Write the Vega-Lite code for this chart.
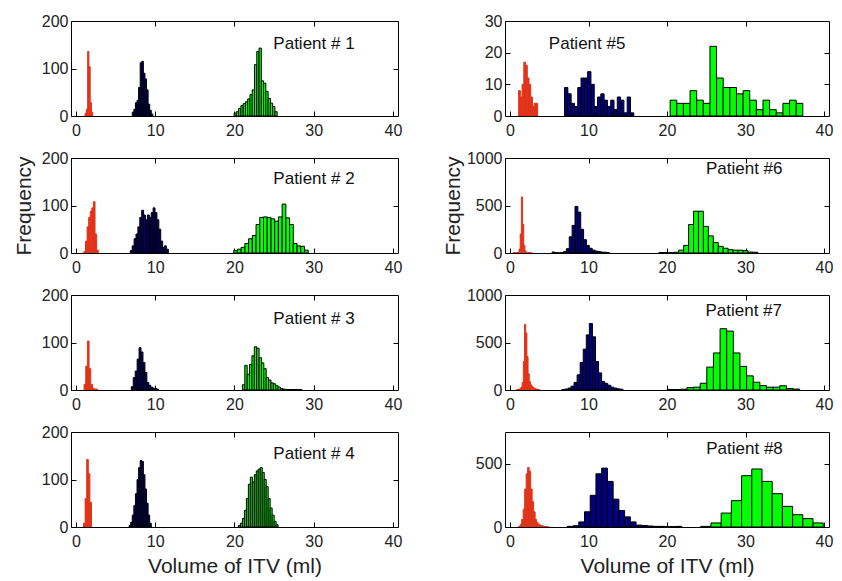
{
"$schema": "https://vega.github.io/schema/vega-lite/v6.json",
"background": "white",
"padding": {"left": 12, "top": 12, "right": 0, "bottom": 0},
"datasets": {
"bins": [
{"p":1,"g":"r","a":1.15,"b":1.31,"n":6},{"p":1,"g":"r","a":1.31,"b":1.47,"n":14},{"p":1,"g":"r","a":1.47,"b":1.63,"n":136},{"p":1,"g":"r","a":1.63,"b":1.79,"n":104},{"p":1,"g":"r","a":1.79,"b":1.95,"n":28},{"p":1,"g":"r","a":1.95,"b":2.11,"n":8},
{"p":1,"g":"m","a":7.1,"b":7.3,"n":8},{"p":1,"g":"m","a":7.3,"b":7.5,"n":14},{"p":1,"g":"m","a":7.5,"b":7.7,"n":28},{"p":1,"g":"m","a":7.7,"b":7.9,"n":33},{"p":1,"g":"m","a":7.9,"b":8.1,"n":60},{"p":1,"g":"m","a":8.1,"b":8.3,"n":112},{"p":1,"g":"m","a":8.3,"b":8.5,"n":115},{"p":1,"g":"m","a":8.5,"b":8.7,"n":90},{"p":1,"g":"m","a":8.7,"b":8.9,"n":78},{"p":1,"g":"m","a":8.9,"b":9.1,"n":55},{"p":1,"g":"m","a":9.1,"b":9.3,"n":25},{"p":1,"g":"m","a":9.3,"b":9.5,"n":12},{"p":1,"g":"m","a":9.5,"b":9.7,"n":4},
{"p":1,"g":"g","a":19.95,"b":20.236,"n":6},{"p":1,"g":"g","a":20.236,"b":20.522,"n":9},{"p":1,"g":"g","a":20.522,"b":20.808,"n":16},{"p":1,"g":"g","a":20.808,"b":21.094,"n":22},{"p":1,"g":"g","a":21.094,"b":21.38,"n":26},{"p":1,"g":"g","a":21.38,"b":21.666,"n":30},{"p":1,"g":"g","a":21.666,"b":21.952,"n":36},{"p":1,"g":"g","a":21.952,"b":22.238,"n":45},{"p":1,"g":"g","a":22.238,"b":22.524,"n":55},{"p":1,"g":"g","a":22.524,"b":22.81,"n":108},{"p":1,"g":"g","a":22.81,"b":23.096,"n":136},{"p":1,"g":"g","a":23.096,"b":23.382,"n":143},{"p":1,"g":"g","a":23.382,"b":23.668,"n":74},{"p":1,"g":"g","a":23.668,"b":23.954,"n":69},{"p":1,"g":"g","a":23.954,"b":24.24,"n":52},{"p":1,"g":"g","a":24.24,"b":24.526,"n":37},{"p":1,"g":"g","a":24.526,"b":24.812,"n":27},{"p":1,"g":"g","a":24.812,"b":25.098,"n":20},{"p":1,"g":"g","a":25.098,"b":25.384,"n":9},
{"p":2,"g":"r","a":1.0,"b":1.2,"n":3},{"p":2,"g":"r","a":1.2,"b":1.4,"n":25},{"p":2,"g":"r","a":1.4,"b":1.6,"n":55},{"p":2,"g":"r","a":1.6,"b":1.8,"n":75},{"p":2,"g":"r","a":1.8,"b":2.0,"n":88},{"p":2,"g":"r","a":2.0,"b":2.2,"n":95},{"p":2,"g":"r","a":2.2,"b":2.4,"n":108},{"p":2,"g":"r","a":2.4,"b":2.6,"n":40},{"p":2,"g":"r","a":2.6,"b":2.8,"n":6},
{"p":2,"g":"m","a":6.85,"b":7.09,"n":5},{"p":2,"g":"m","a":7.09,"b":7.33,"n":15},{"p":2,"g":"m","a":7.33,"b":7.57,"n":30},{"p":2,"g":"m","a":7.57,"b":7.81,"n":40},{"p":2,"g":"m","a":7.81,"b":8.05,"n":55},{"p":2,"g":"m","a":8.05,"b":8.29,"n":75},{"p":2,"g":"m","a":8.29,"b":8.53,"n":90},{"p":2,"g":"m","a":8.53,"b":8.77,"n":80},{"p":2,"g":"m","a":8.77,"b":9.01,"n":70},{"p":2,"g":"m","a":9.01,"b":9.25,"n":80},{"p":2,"g":"m","a":9.25,"b":9.49,"n":75},{"p":2,"g":"m","a":9.49,"b":9.73,"n":85},{"p":2,"g":"m","a":9.73,"b":9.97,"n":95},{"p":2,"g":"m","a":9.97,"b":10.21,"n":85},{"p":2,"g":"m","a":10.21,"b":10.45,"n":70},{"p":2,"g":"m","a":10.45,"b":10.69,"n":50},{"p":2,"g":"m","a":10.69,"b":10.93,"n":25},{"p":2,"g":"m","a":10.93,"b":11.17,"n":12},{"p":2,"g":"m","a":11.17,"b":11.41,"n":15},{"p":2,"g":"m","a":11.41,"b":11.65,"n":8},
{"p":2,"g":"g","a":19.9,"b":20.37,"n":5},{"p":2,"g":"g","a":20.37,"b":20.84,"n":8},{"p":2,"g":"g","a":20.84,"b":21.31,"n":12},{"p":2,"g":"g","a":21.31,"b":21.78,"n":20},{"p":2,"g":"g","a":21.78,"b":22.25,"n":30},{"p":2,"g":"g","a":22.25,"b":22.72,"n":37},{"p":2,"g":"g","a":22.72,"b":23.19,"n":60},{"p":2,"g":"g","a":23.19,"b":23.66,"n":75},{"p":2,"g":"g","a":23.66,"b":24.13,"n":76},{"p":2,"g":"g","a":24.13,"b":24.6,"n":75},{"p":2,"g":"g","a":24.6,"b":25.07,"n":72},{"p":2,"g":"g","a":25.07,"b":25.54,"n":67},{"p":2,"g":"g","a":25.54,"b":26.01,"n":76},{"p":2,"g":"g","a":26.01,"b":26.48,"n":103},{"p":2,"g":"g","a":26.48,"b":26.95,"n":74},{"p":2,"g":"g","a":26.95,"b":27.42,"n":60},{"p":2,"g":"g","a":27.42,"b":27.89,"n":20},{"p":2,"g":"g","a":27.89,"b":28.36,"n":15},{"p":2,"g":"g","a":28.36,"b":28.83,"n":14},{"p":2,"g":"g","a":28.83,"b":29.3,"n":6},
{"p":3,"g":"r","a":1.02,"b":1.23,"n":12},{"p":3,"g":"r","a":1.23,"b":1.44,"n":50},{"p":3,"g":"r","a":1.44,"b":1.65,"n":103},{"p":3,"g":"r","a":1.65,"b":1.86,"n":45},{"p":3,"g":"r","a":1.86,"b":2.07,"n":12},{"p":3,"g":"r","a":2.07,"b":2.28,"n":4},{"p":3,"g":"r","a":2.28,"b":2.49,"n":2},{"p":3,"g":"r","a":2.49,"b":2.7,"n":2},
{"p":3,"g":"m","a":6.98,"b":7.225,"n":7},{"p":3,"g":"m","a":7.225,"b":7.47,"n":26},{"p":3,"g":"m","a":7.47,"b":7.715,"n":40},{"p":3,"g":"m","a":7.715,"b":7.96,"n":65},{"p":3,"g":"m","a":7.96,"b":8.205,"n":89},{"p":3,"g":"m","a":8.205,"b":8.45,"n":80},{"p":3,"g":"m","a":8.45,"b":8.695,"n":58},{"p":3,"g":"m","a":8.695,"b":8.94,"n":37},{"p":3,"g":"m","a":8.94,"b":9.185,"n":16},{"p":3,"g":"m","a":9.185,"b":9.43,"n":10},{"p":3,"g":"m","a":9.43,"b":9.675,"n":6},{"p":3,"g":"m","a":9.675,"b":9.92,"n":4},{"p":3,"g":"m","a":9.92,"b":10.165,"n":3},{"p":3,"g":"m","a":10.165,"b":10.41,"n":2},
{"p":3,"g":"g","a":21.0,"b":21.3,"n":11},{"p":3,"g":"g","a":21.3,"b":21.6,"n":52},{"p":3,"g":"g","a":21.6,"b":21.9,"n":33},{"p":3,"g":"g","a":21.9,"b":22.2,"n":54},{"p":3,"g":"g","a":22.2,"b":22.5,"n":72},{"p":3,"g":"g","a":22.5,"b":22.8,"n":91},{"p":3,"g":"g","a":22.8,"b":23.1,"n":88},{"p":3,"g":"g","a":23.1,"b":23.4,"n":68},{"p":3,"g":"g","a":23.4,"b":23.7,"n":57},{"p":3,"g":"g","a":23.7,"b":24.0,"n":45},{"p":3,"g":"g","a":24.0,"b":24.3,"n":26},{"p":3,"g":"g","a":24.3,"b":24.6,"n":21},{"p":3,"g":"g","a":24.6,"b":24.9,"n":15},{"p":3,"g":"g","a":24.9,"b":25.2,"n":13},{"p":3,"g":"g","a":25.2,"b":25.5,"n":9},{"p":3,"g":"g","a":25.5,"b":25.8,"n":6},{"p":3,"g":"g","a":25.8,"b":26.1,"n":3},{"p":3,"g":"g","a":26.1,"b":26.4,"n":2},{"p":3,"g":"g","a":26.4,"b":26.7,"n":1},{"p":3,"g":"g","a":26.7,"b":27.0,"n":1},{"p":3,"g":"g","a":27.0,"b":27.3,"n":1},{"p":3,"g":"g","a":27.3,"b":27.6,"n":1},{"p":3,"g":"g","a":27.6,"b":27.9,"n":1},{"p":3,"g":"g","a":27.9,"b":28.2,"n":1},{"p":3,"g":"g","a":28.2,"b":28.5,"n":1},
{"p":4,"g":"r","a":0.95,"b":1.15,"n":8},{"p":4,"g":"r","a":1.15,"b":1.35,"n":60},{"p":4,"g":"r","a":1.35,"b":1.55,"n":142},{"p":4,"g":"r","a":1.55,"b":1.75,"n":112},{"p":4,"g":"r","a":1.75,"b":1.95,"n":52},
{"p":4,"g":"m","a":6.7,"b":6.9,"n":3},{"p":4,"g":"m","a":6.9,"b":7.1,"n":10},{"p":4,"g":"m","a":7.1,"b":7.3,"n":25},{"p":4,"g":"m","a":7.3,"b":7.5,"n":45},{"p":4,"g":"m","a":7.5,"b":7.7,"n":70},{"p":4,"g":"m","a":7.7,"b":7.9,"n":100},{"p":4,"g":"m","a":7.9,"b":8.1,"n":125},{"p":4,"g":"m","a":8.1,"b":8.3,"n":140},{"p":4,"g":"m","a":8.3,"b":8.5,"n":138},{"p":4,"g":"m","a":8.5,"b":8.7,"n":110},{"p":4,"g":"m","a":8.7,"b":8.9,"n":80},{"p":4,"g":"m","a":8.9,"b":9.1,"n":50},{"p":4,"g":"m","a":9.1,"b":9.3,"n":25},{"p":4,"g":"m","a":9.3,"b":9.5,"n":8},
{"p":4,"g":"g","a":20.5,"b":20.75,"n":3},{"p":4,"g":"g","a":20.75,"b":21.0,"n":8},{"p":4,"g":"g","a":21.0,"b":21.25,"n":18},{"p":4,"g":"g","a":21.25,"b":21.5,"n":35},{"p":4,"g":"g","a":21.5,"b":21.75,"n":60},{"p":4,"g":"g","a":21.75,"b":22.0,"n":90},{"p":4,"g":"g","a":22.0,"b":22.25,"n":105},{"p":4,"g":"g","a":22.25,"b":22.5,"n":95},{"p":4,"g":"g","a":22.5,"b":22.75,"n":110},{"p":4,"g":"g","a":22.75,"b":23.0,"n":118},{"p":4,"g":"g","a":23.0,"b":23.25,"n":122},{"p":4,"g":"g","a":23.25,"b":23.5,"n":125},{"p":4,"g":"g","a":23.5,"b":23.75,"n":115},{"p":4,"g":"g","a":23.75,"b":24.0,"n":100},{"p":4,"g":"g","a":24.0,"b":24.25,"n":85},{"p":4,"g":"g","a":24.25,"b":24.5,"n":60},{"p":4,"g":"g","a":24.5,"b":24.75,"n":40},{"p":4,"g":"g","a":24.75,"b":25.0,"n":25},{"p":4,"g":"g","a":25.0,"b":25.25,"n":12},{"p":4,"g":"g","a":25.25,"b":25.5,"n":5},
{"p":5,"g":"r","a":1.1,"b":1.32,"n":8},{"p":5,"g":"r","a":1.32,"b":1.54,"n":6},{"p":5,"g":"r","a":1.54,"b":1.76,"n":10},{"p":5,"g":"r","a":1.76,"b":1.98,"n":17},{"p":5,"g":"r","a":1.98,"b":2.2,"n":16},{"p":5,"g":"r","a":2.2,"b":2.42,"n":12},{"p":5,"g":"r","a":2.42,"b":2.64,"n":10},{"p":5,"g":"r","a":2.64,"b":2.86,"n":6},{"p":5,"g":"r","a":2.86,"b":3.08,"n":3},{"p":5,"g":"r","a":3.08,"b":3.3,"n":4},{"p":5,"g":"r","a":3.3,"b":3.52,"n":4},
{"p":5,"g":"m","a":6.95,"b":7.37,"n":9},{"p":5,"g":"m","a":7.37,"b":7.79,"n":7},{"p":5,"g":"m","a":7.79,"b":8.21,"n":4},{"p":5,"g":"m","a":8.21,"b":8.63,"n":3},{"p":5,"g":"m","a":8.63,"b":9.05,"n":9},{"p":5,"g":"m","a":9.05,"b":9.47,"n":12},{"p":5,"g":"m","a":9.47,"b":9.89,"n":12},{"p":5,"g":"m","a":9.89,"b":10.31,"n":14},{"p":5,"g":"m","a":10.31,"b":10.73,"n":10},{"p":5,"g":"m","a":10.73,"b":11.15,"n":3},{"p":5,"g":"m","a":11.15,"b":11.57,"n":6},{"p":5,"g":"m","a":11.57,"b":11.99,"n":7},{"p":5,"g":"m","a":11.99,"b":12.41,"n":5},{"p":5,"g":"m","a":12.41,"b":12.83,"n":3},{"p":5,"g":"m","a":12.83,"b":13.25,"n":5},{"p":5,"g":"m","a":13.25,"b":13.67,"n":2},{"p":5,"g":"m","a":13.67,"b":14.09,"n":6},{"p":5,"g":"m","a":14.09,"b":14.51,"n":5},{"p":5,"g":"m","a":14.51,"b":14.93,"n":1},{"p":5,"g":"m","a":14.93,"b":15.35,"n":6},{"p":5,"g":"m","a":15.35,"b":15.77,"n":1},
{"p":5,"g":"g","a":20.4,"b":21.245,"n":5},{"p":5,"g":"g","a":21.245,"b":22.09,"n":4},{"p":5,"g":"g","a":22.09,"b":22.935,"n":4},{"p":5,"g":"g","a":22.935,"b":23.78,"n":8},{"p":5,"g":"g","a":23.78,"b":24.625,"n":5},{"p":5,"g":"g","a":24.625,"b":25.47,"n":4},{"p":5,"g":"g","a":25.47,"b":26.315,"n":22},{"p":5,"g":"g","a":26.315,"b":27.16,"n":12},{"p":5,"g":"g","a":27.16,"b":28.005,"n":9},{"p":5,"g":"g","a":28.005,"b":28.85,"n":9},{"p":5,"g":"g","a":28.85,"b":29.695,"n":7},{"p":5,"g":"g","a":29.695,"b":30.54,"n":8},{"p":5,"g":"g","a":30.54,"b":31.385,"n":5},{"p":5,"g":"g","a":31.385,"b":32.23,"n":2},{"p":5,"g":"g","a":32.23,"b":33.075,"n":5},{"p":5,"g":"g","a":33.075,"b":33.92,"n":2},{"p":5,"g":"g","a":33.92,"b":34.765,"n":1},{"p":5,"g":"g","a":34.765,"b":35.61,"n":4},{"p":5,"g":"g","a":35.61,"b":36.455,"n":5},{"p":5,"g":"g","a":36.455,"b":37.3,"n":4},
{"p":6,"g":"r","a":0.4,"b":0.55,"n":3},{"p":6,"g":"r","a":0.55,"b":0.7,"n":3},{"p":6,"g":"r","a":0.7,"b":0.85,"n":3},{"p":6,"g":"r","a":0.85,"b":1.0,"n":3},{"p":6,"g":"r","a":1.0,"b":1.15,"n":5},{"p":6,"g":"r","a":1.15,"b":1.3,"n":40},{"p":6,"g":"r","a":1.3,"b":1.45,"n":200},{"p":6,"g":"r","a":1.45,"b":1.6,"n":590},{"p":6,"g":"r","a":1.6,"b":1.75,"n":300},{"p":6,"g":"r","a":1.75,"b":1.9,"n":80},{"p":6,"g":"r","a":1.9,"b":2.05,"n":20},{"p":6,"g":"r","a":2.05,"b":2.2,"n":8},{"p":6,"g":"r","a":2.2,"b":2.35,"n":5},{"p":6,"g":"r","a":2.35,"b":2.5,"n":3},{"p":6,"g":"r","a":2.5,"b":2.65,"n":3},{"p":6,"g":"r","a":2.65,"b":2.8,"n":2},
{"p":6,"g":"m","a":5.36,"b":5.725,"n":10},{"p":6,"g":"m","a":5.725,"b":6.09,"n":2},{"p":6,"g":"m","a":6.09,"b":6.455,"n":2},{"p":6,"g":"m","a":6.455,"b":6.82,"n":5},{"p":6,"g":"m","a":6.82,"b":7.185,"n":15},{"p":6,"g":"m","a":7.185,"b":7.55,"n":45},{"p":6,"g":"m","a":7.55,"b":7.915,"n":170},{"p":6,"g":"m","a":7.915,"b":8.28,"n":290},{"p":6,"g":"m","a":8.28,"b":8.645,"n":490},{"p":6,"g":"m","a":8.645,"b":9.01,"n":430},{"p":6,"g":"m","a":9.01,"b":9.375,"n":250},{"p":6,"g":"m","a":9.375,"b":9.74,"n":140},{"p":6,"g":"m","a":9.74,"b":10.105,"n":80},{"p":6,"g":"m","a":10.105,"b":10.47,"n":50},{"p":6,"g":"m","a":10.47,"b":10.835,"n":30},{"p":6,"g":"m","a":10.835,"b":11.2,"n":20},{"p":6,"g":"m","a":11.2,"b":11.565,"n":15},{"p":6,"g":"m","a":11.565,"b":11.93,"n":10},{"p":6,"g":"m","a":11.93,"b":12.295,"n":8},{"p":6,"g":"m","a":12.295,"b":12.66,"n":5},
{"p":6,"g":"g","a":18.97,"b":19.6,"n":5},{"p":6,"g":"g","a":19.6,"b":20.23,"n":5},{"p":6,"g":"g","a":20.23,"b":20.86,"n":5},{"p":6,"g":"g","a":20.86,"b":21.49,"n":8},{"p":6,"g":"g","a":21.49,"b":22.12,"n":30},{"p":6,"g":"g","a":22.12,"b":22.75,"n":80},{"p":6,"g":"g","a":22.75,"b":23.38,"n":300},{"p":6,"g":"g","a":23.38,"b":24.01,"n":440},{"p":6,"g":"g","a":24.01,"b":24.64,"n":440},{"p":6,"g":"g","a":24.64,"b":25.27,"n":280},{"p":6,"g":"g","a":25.27,"b":25.9,"n":180},{"p":6,"g":"g","a":25.9,"b":26.53,"n":110},{"p":6,"g":"g","a":26.53,"b":27.16,"n":70},{"p":6,"g":"g","a":27.16,"b":27.79,"n":50},{"p":6,"g":"g","a":27.79,"b":28.42,"n":35},{"p":6,"g":"g","a":28.42,"b":29.05,"n":30},{"p":6,"g":"g","a":29.05,"b":29.68,"n":30},{"p":6,"g":"g","a":29.68,"b":30.31,"n":25},{"p":6,"g":"g","a":30.31,"b":30.94,"n":10},{"p":6,"g":"g","a":30.94,"b":31.57,"n":8},
{"p":7,"g":"r","a":0.8,"b":0.95,"n":3},{"p":7,"g":"r","a":0.95,"b":1.1,"n":5},{"p":7,"g":"r","a":1.1,"b":1.25,"n":8},{"p":7,"g":"r","a":1.25,"b":1.4,"n":15},{"p":7,"g":"r","a":1.4,"b":1.55,"n":30},{"p":7,"g":"r","a":1.55,"b":1.7,"n":80},{"p":7,"g":"r","a":1.7,"b":1.85,"n":300},{"p":7,"g":"r","a":1.85,"b":2.0,"n":690},{"p":7,"g":"r","a":2.0,"b":2.15,"n":600},{"p":7,"g":"r","a":2.15,"b":2.3,"n":350},{"p":7,"g":"r","a":2.3,"b":2.45,"n":170},{"p":7,"g":"r","a":2.45,"b":2.6,"n":90},{"p":7,"g":"r","a":2.6,"b":2.75,"n":55},{"p":7,"g":"r","a":2.75,"b":2.9,"n":40},{"p":7,"g":"r","a":2.9,"b":3.05,"n":25},{"p":7,"g":"r","a":3.05,"b":3.2,"n":18},{"p":7,"g":"r","a":3.2,"b":3.35,"n":12},{"p":7,"g":"r","a":3.35,"b":3.5,"n":8},{"p":7,"g":"r","a":3.5,"b":3.65,"n":5},{"p":7,"g":"r","a":3.65,"b":3.8,"n":3},
{"p":7,"g":"m","a":6.6,"b":6.99,"n":5},{"p":7,"g":"m","a":6.99,"b":7.38,"n":10},{"p":7,"g":"m","a":7.38,"b":7.77,"n":20},{"p":7,"g":"m","a":7.77,"b":8.16,"n":40},{"p":7,"g":"m","a":8.16,"b":8.55,"n":80},{"p":7,"g":"m","a":8.55,"b":8.94,"n":160},{"p":7,"g":"m","a":8.94,"b":9.33,"n":290},{"p":7,"g":"m","a":9.33,"b":9.72,"n":430},{"p":7,"g":"m","a":9.72,"b":10.11,"n":580},{"p":7,"g":"m","a":10.11,"b":10.5,"n":700},{"p":7,"g":"m","a":10.5,"b":10.89,"n":560},{"p":7,"g":"m","a":10.89,"b":11.28,"n":300},{"p":7,"g":"m","a":11.28,"b":11.67,"n":180},{"p":7,"g":"m","a":11.67,"b":12.06,"n":90},{"p":7,"g":"m","a":12.06,"b":12.45,"n":70},{"p":7,"g":"m","a":12.45,"b":12.84,"n":50},{"p":7,"g":"m","a":12.84,"b":13.23,"n":30},{"p":7,"g":"m","a":13.23,"b":13.62,"n":20},{"p":7,"g":"m","a":13.62,"b":14.01,"n":12},{"p":7,"g":"m","a":14.01,"b":14.4,"n":8},
{"p":7,"g":"g","a":20.0,"b":20.845,"n":5},{"p":7,"g":"g","a":20.845,"b":21.69,"n":5},{"p":7,"g":"g","a":21.69,"b":22.535,"n":8},{"p":7,"g":"g","a":22.535,"b":23.38,"n":25},{"p":7,"g":"g","a":23.38,"b":24.225,"n":30},{"p":7,"g":"g","a":24.225,"b":25.07,"n":71},{"p":7,"g":"g","a":25.07,"b":25.915,"n":241},{"p":7,"g":"g","a":25.915,"b":26.76,"n":390},{"p":7,"g":"g","a":26.76,"b":27.605,"n":645},{"p":7,"g":"g","a":27.605,"b":28.45,"n":620},{"p":7,"g":"g","a":28.45,"b":29.295,"n":390},{"p":7,"g":"g","a":29.295,"b":30.14,"n":248},{"p":7,"g":"g","a":30.14,"b":30.985,"n":149},{"p":7,"g":"g","a":30.985,"b":31.83,"n":82},{"p":7,"g":"g","a":31.83,"b":32.675,"n":46},{"p":7,"g":"g","a":32.675,"b":33.52,"n":30},{"p":7,"g":"g","a":33.52,"b":34.365,"n":30},{"p":7,"g":"g","a":34.365,"b":35.21,"n":45},{"p":7,"g":"g","a":35.21,"b":36.055,"n":15},{"p":7,"g":"g","a":36.055,"b":36.9,"n":10},
{"p":8,"g":"r","a":1.11,"b":1.3,"n":5},{"p":8,"g":"r","a":1.3,"b":1.49,"n":20},{"p":8,"g":"r","a":1.49,"b":1.68,"n":60},{"p":8,"g":"r","a":1.68,"b":1.87,"n":140},{"p":8,"g":"r","a":1.87,"b":2.06,"n":300},{"p":8,"g":"r","a":2.06,"b":2.25,"n":420},{"p":8,"g":"r","a":2.25,"b":2.44,"n":470},{"p":8,"g":"r","a":2.44,"b":2.63,"n":440},{"p":8,"g":"r","a":2.63,"b":2.82,"n":300},{"p":8,"g":"r","a":2.82,"b":3.01,"n":200},{"p":8,"g":"r","a":3.01,"b":3.2,"n":120},{"p":8,"g":"r","a":3.2,"b":3.39,"n":60},{"p":8,"g":"r","a":3.39,"b":3.58,"n":35},{"p":8,"g":"r","a":3.58,"b":3.77,"n":20},{"p":8,"g":"r","a":3.77,"b":3.96,"n":15},{"p":8,"g":"r","a":3.96,"b":4.15,"n":10},{"p":8,"g":"r","a":4.15,"b":4.34,"n":8},{"p":8,"g":"r","a":4.34,"b":4.53,"n":5},{"p":8,"g":"r","a":4.53,"b":4.72,"n":5},{"p":8,"g":"r","a":4.72,"b":4.91,"n":3},
{"p":8,"g":"m","a":7.3,"b":8.03,"n":5},{"p":8,"g":"m","a":8.03,"b":8.76,"n":10},{"p":8,"g":"m","a":8.76,"b":9.49,"n":40},{"p":8,"g":"m","a":9.49,"b":10.22,"n":120},{"p":8,"g":"m","a":10.22,"b":10.95,"n":250},{"p":8,"g":"m","a":10.95,"b":11.68,"n":420},{"p":8,"g":"m","a":11.68,"b":12.41,"n":465},{"p":8,"g":"m","a":12.41,"b":13.14,"n":360},{"p":8,"g":"m","a":13.14,"b":13.87,"n":220},{"p":8,"g":"m","a":13.87,"b":14.6,"n":130},{"p":8,"g":"m","a":14.6,"b":15.33,"n":80},{"p":8,"g":"m","a":15.33,"b":16.06,"n":40},{"p":8,"g":"m","a":16.06,"b":16.79,"n":15},{"p":8,"g":"m","a":16.79,"b":17.52,"n":12},{"p":8,"g":"m","a":17.52,"b":18.25,"n":8},{"p":8,"g":"m","a":18.25,"b":18.98,"n":5},{"p":8,"g":"m","a":18.98,"b":19.71,"n":5},{"p":8,"g":"m","a":19.71,"b":20.44,"n":3},{"p":8,"g":"m","a":20.44,"b":21.17,"n":3},{"p":8,"g":"m","a":21.17,"b":21.9,"n":5},
{"p":8,"g":"g","a":24.3,"b":25.6,"n":5},{"p":8,"g":"g","a":25.6,"b":26.9,"n":32},{"p":8,"g":"g","a":26.9,"b":28.2,"n":110},{"p":8,"g":"g","a":28.2,"b":29.5,"n":208},{"p":8,"g":"g","a":29.5,"b":30.8,"n":405},{"p":8,"g":"g","a":30.8,"b":32.1,"n":458},{"p":8,"g":"g","a":32.1,"b":33.4,"n":360},{"p":8,"g":"g","a":33.4,"b":34.7,"n":263},{"p":8,"g":"g","a":34.7,"b":36.0,"n":163},{"p":8,"g":"g","a":36.0,"b":37.3,"n":97},{"p":8,"g":"g","a":37.3,"b":38.6,"n":66},{"p":8,"g":"g","a":38.6,"b":39.9,"n":32}
]
},
"columns": 2,
"spacing": {"row": 42, "column": 107},
"bounds": "flush",
"resolve": {"scale": {"x": "independent", "y": "independent"}},
"concat": [
{"width": 327, "height": 95, "resolve": {"axis": {"x": "independent", "y": "independent"}}, "layer": [
 {"data": {"name": "bins"}, "transform": [{"filter": "datum.p == 1"}], "mark": {"type": "bar", "orient": "vertical", "strokeWidth": 1, "clip": true},
  "encoding": {"x": {"field": "a", "type": "quantitative", "scale": {"domain": [0, 40], "nice": false, "zero": false}, "axis": {"values": [0,10,20,30,40], "title": null}},
   "x2": {"field": "b"},
   "y": {"field": "n", "type": "quantitative", "scale": {"domain": [0, 200], "nice": false}, "axis": {"values": [0,100,200], "format": "d", "title": null}},
   "y2": {"datum": 0},
   "fill": {"field": "g", "type": "nominal", "scale": {"domain": ["r","m","g"], "range": ["#e0341a","#000080","#00ff00"]}, "legend": null},
   "stroke": {"field": "g", "type": "nominal", "scale": {"domain": ["r","m","g"], "range": ["#e0341a","#000000","#000000"]}, "legend": null}}},
 {"data": {"values": [{}]}, "mark": {"type": "text", "align": "left", "baseline": "middle", "font": "Liberation Sans", "fontSize": 17, "color": "#111"},
  "encoding": {"x": {"datum": 24.9, "type": "quantitative", "axis": {"orient": "top", "values": [10,20,30], "labels": false, "title": null}},
   "y": {"datum": 152, "type": "quantitative", "axis": {"orient": "right", "values": [100], "labels": false, "title": null}},
   "text": {"value": "Patient # 1"}}}
]},
{"width": 324, "height": 95, "resolve": {"axis": {"x": "independent", "y": "independent"}}, "layer": [
 {"data": {"name": "bins"}, "transform": [{"filter": "datum.p == 5"}], "mark": {"type": "bar", "orient": "vertical", "strokeWidth": 1, "clip": true},
  "encoding": {"x": {"field": "a", "type": "quantitative", "scale": {"domain": [0, 40], "nice": false, "zero": false}, "axis": {"values": [0,10,20,30,40], "title": null}},
   "x2": {"field": "b"},
   "y": {"field": "n", "type": "quantitative", "scale": {"domain": [0, 30], "nice": false}, "axis": {"values": [0,10,20,30], "format": "d", "title": null}},
   "y2": {"datum": 0},
   "fill": {"field": "g", "type": "nominal", "scale": {"domain": ["r","m","g"], "range": ["#e0341a","#000080","#00ff00"]}, "legend": null},
   "stroke": {"field": "g", "type": "nominal", "scale": {"domain": ["r","m","g"], "range": ["#e0341a","#000000","#000000"]}, "legend": null}}},
 {"data": {"values": [{}]}, "mark": {"type": "text", "align": "left", "baseline": "middle", "font": "Liberation Sans", "fontSize": 17, "color": "#111"},
  "encoding": {"x": {"datum": 4.95, "type": "quantitative", "axis": {"orient": "top", "values": [10,20,30], "labels": false, "title": null}},
   "y": {"datum": 22.8, "type": "quantitative", "axis": {"orient": "right", "values": [10,20], "labels": false, "title": null}},
   "text": {"value": "Patient #5"}}}
]},
{"width": 327, "height": 95, "resolve": {"axis": {"x": "independent", "y": "independent"}}, "layer": [
 {"data": {"name": "bins"}, "transform": [{"filter": "datum.p == 2"}], "mark": {"type": "bar", "orient": "vertical", "strokeWidth": 1, "clip": true},
  "encoding": {"x": {"field": "a", "type": "quantitative", "scale": {"domain": [0, 40], "nice": false, "zero": false}, "axis": {"values": [0,10,20,30,40], "title": null}},
   "x2": {"field": "b"},
   "y": {"field": "n", "type": "quantitative", "scale": {"domain": [0, 200], "nice": false}, "axis": {"values": [0,100,200], "format": "d", "title": "Frequency", "titlePadding": 7}},
   "y2": {"datum": 0},
   "fill": {"field": "g", "type": "nominal", "scale": {"domain": ["r","m","g"], "range": ["#e0341a","#000080","#00ff00"]}, "legend": null},
   "stroke": {"field": "g", "type": "nominal", "scale": {"domain": ["r","m","g"], "range": ["#e0341a","#000000","#000000"]}, "legend": null}}},
 {"data": {"values": [{}]}, "mark": {"type": "text", "align": "left", "baseline": "middle", "font": "Liberation Sans", "fontSize": 17, "color": "#111"},
  "encoding": {"x": {"datum": 24.9, "type": "quantitative", "axis": {"orient": "top", "values": [10,20,30], "labels": false, "title": null}},
   "y": {"datum": 155, "type": "quantitative", "axis": {"orient": "right", "values": [100], "labels": false, "title": null}},
   "text": {"value": "Patient # 2"}}}
]},
{"width": 324, "height": 95, "resolve": {"axis": {"x": "independent", "y": "independent"}}, "layer": [
 {"data": {"name": "bins"}, "transform": [{"filter": "datum.p == 6"}], "mark": {"type": "bar", "orient": "vertical", "strokeWidth": 1, "clip": true},
  "encoding": {"x": {"field": "a", "type": "quantitative", "scale": {"domain": [0, 40], "nice": false, "zero": false}, "axis": {"values": [0,10,20,30,40], "title": null}},
   "x2": {"field": "b"},
   "y": {"field": "n", "type": "quantitative", "scale": {"domain": [0, 1000], "nice": false}, "axis": {"values": [0,500,1000], "format": "d", "title": "Frequency", "titlePadding": 3}},
   "y2": {"datum": 0},
   "fill": {"field": "g", "type": "nominal", "scale": {"domain": ["r","m","g"], "range": ["#e0341a","#000080","#00ff00"]}, "legend": null},
   "stroke": {"field": "g", "type": "nominal", "scale": {"domain": ["r","m","g"], "range": ["#e0341a","#000000","#000000"]}, "legend": null}}},
 {"data": {"values": [{}]}, "mark": {"type": "text", "align": "left", "baseline": "middle", "font": "Liberation Sans", "fontSize": 17, "color": "#111"},
  "encoding": {"x": {"datum": 24.96, "type": "quantitative", "axis": {"orient": "top", "values": [10,20,30], "labels": false, "title": null}},
   "y": {"datum": 880, "type": "quantitative", "axis": {"orient": "right", "values": [500], "labels": false, "title": null}},
   "text": {"value": "Patient #6"}}}
]},
{"width": 327, "height": 95, "resolve": {"axis": {"x": "independent", "y": "independent"}}, "layer": [
 {"data": {"name": "bins"}, "transform": [{"filter": "datum.p == 3"}], "mark": {"type": "bar", "orient": "vertical", "strokeWidth": 1, "clip": true},
  "encoding": {"x": {"field": "a", "type": "quantitative", "scale": {"domain": [0, 40], "nice": false, "zero": false}, "axis": {"values": [0,10,20,30,40], "title": null}},
   "x2": {"field": "b"},
   "y": {"field": "n", "type": "quantitative", "scale": {"domain": [0, 200], "nice": false}, "axis": {"values": [0,100,200], "format": "d", "title": null}},
   "y2": {"datum": 0},
   "fill": {"field": "g", "type": "nominal", "scale": {"domain": ["r","m","g"], "range": ["#e0341a","#000080","#00ff00"]}, "legend": null},
   "stroke": {"field": "g", "type": "nominal", "scale": {"domain": ["r","m","g"], "range": ["#e0341a","#000000","#000000"]}, "legend": null}}},
 {"data": {"values": [{}]}, "mark": {"type": "text", "align": "left", "baseline": "middle", "font": "Liberation Sans", "fontSize": 17, "color": "#111"},
  "encoding": {"x": {"datum": 24.9, "type": "quantitative", "axis": {"orient": "top", "values": [10,20,30], "labels": false, "title": null}},
   "y": {"datum": 150, "type": "quantitative", "axis": {"orient": "right", "values": [100], "labels": false, "title": null}},
   "text": {"value": "Patient # 3"}}}
]},
{"width": 324, "height": 95, "resolve": {"axis": {"x": "independent", "y": "independent"}}, "layer": [
 {"data": {"name": "bins"}, "transform": [{"filter": "datum.p == 7"}], "mark": {"type": "bar", "orient": "vertical", "strokeWidth": 1, "clip": true},
  "encoding": {"x": {"field": "a", "type": "quantitative", "scale": {"domain": [0, 40], "nice": false, "zero": false}, "axis": {"values": [0,10,20,30,40], "title": null}},
   "x2": {"field": "b"},
   "y": {"field": "n", "type": "quantitative", "scale": {"domain": [0, 1000], "nice": false}, "axis": {"values": [0,500,1000], "format": "d", "title": null}},
   "y2": {"datum": 0},
   "fill": {"field": "g", "type": "nominal", "scale": {"domain": ["r","m","g"], "range": ["#e0341a","#000080","#00ff00"]}, "legend": null},
   "stroke": {"field": "g", "type": "nominal", "scale": {"domain": ["r","m","g"], "range": ["#e0341a","#000000","#000000"]}, "legend": null}}},
 {"data": {"values": [{}]}, "mark": {"type": "text", "align": "left", "baseline": "middle", "font": "Liberation Sans", "fontSize": 17, "color": "#111"},
  "encoding": {"x": {"datum": 24.9, "type": "quantitative", "axis": {"orient": "top", "values": [10,20,30], "labels": false, "title": null}},
   "y": {"datum": 830, "type": "quantitative", "axis": {"orient": "right", "values": [500], "labels": false, "title": null}},
   "text": {"value": "Patient #7"}}}
]},
{"width": 327, "height": 95, "resolve": {"axis": {"x": "independent", "y": "independent"}}, "layer": [
 {"data": {"name": "bins"}, "transform": [{"filter": "datum.p == 4"}], "mark": {"type": "bar", "orient": "vertical", "strokeWidth": 1, "clip": true},
  "encoding": {"x": {"field": "a", "type": "quantitative", "scale": {"domain": [0, 40], "nice": false, "zero": false}, "axis": {"values": [0,10,20,30,40], "title": "Volume of ITV (ml)", "titlePadding": 6}},
   "x2": {"field": "b"},
   "y": {"field": "n", "type": "quantitative", "scale": {"domain": [0, 200], "nice": false}, "axis": {"values": [0,100,200], "format": "d", "title": null}},
   "y2": {"datum": 0},
   "fill": {"field": "g", "type": "nominal", "scale": {"domain": ["r","m","g"], "range": ["#e0341a","#000080","#00ff00"]}, "legend": null},
   "stroke": {"field": "g", "type": "nominal", "scale": {"domain": ["r","m","g"], "range": ["#e0341a","#000000","#000000"]}, "legend": null}}},
 {"data": {"values": [{}]}, "mark": {"type": "text", "align": "left", "baseline": "middle", "font": "Liberation Sans", "fontSize": 17, "color": "#111"},
  "encoding": {"x": {"datum": 24.9, "type": "quantitative", "axis": {"orient": "top", "values": [10,20,30], "labels": false, "title": null}},
   "y": {"datum": 153, "type": "quantitative", "axis": {"orient": "right", "values": [100], "labels": false, "title": null}},
   "text": {"value": "Patient # 4"}}}
]},
{"width": 324, "height": 95, "resolve": {"axis": {"x": "independent", "y": "independent"}}, "layer": [
 {"data": {"name": "bins"}, "transform": [{"filter": "datum.p == 8"}], "mark": {"type": "bar", "orient": "vertical", "strokeWidth": 1, "clip": true},
  "encoding": {"x": {"field": "a", "type": "quantitative", "scale": {"domain": [0, 40], "nice": false, "zero": false}, "axis": {"values": [0,10,20,30,40], "title": "Volume of ITV (ml)", "titlePadding": 6}},
   "x2": {"field": "b"},
   "y": {"field": "n", "type": "quantitative", "scale": {"domain": [0, 750], "nice": false}, "axis": {"values": [0,500], "format": "d", "title": null}},
   "y2": {"datum": 0},
   "fill": {"field": "g", "type": "nominal", "scale": {"domain": ["r","m","g"], "range": ["#e0341a","#000080","#00ff00"]}, "legend": null},
   "stroke": {"field": "g", "type": "nominal", "scale": {"domain": ["r","m","g"], "range": ["#e0341a","#000000","#000000"]}, "legend": null}}},
 {"data": {"values": [{}]}, "mark": {"type": "text", "align": "left", "baseline": "middle", "font": "Liberation Sans", "fontSize": 17, "color": "#111"},
  "encoding": {"x": {"datum": 25.0, "type": "quantitative", "axis": {"orient": "top", "values": [10,20,30], "labels": false, "title": null}},
   "y": {"datum": 613, "type": "quantitative", "axis": {"orient": "right", "values": [500], "labels": false, "title": null}},
   "text": {"value": "Patient #8"}}}
]}
],
"config": {
 "view": {"stroke": "#000000", "strokeWidth": 1},
 "axis": {"grid": false, "domain": false, "ticks": true, "tickSize": -5, "tickColor": "#000000", "tickWidth": 1,
  "labelFont": "Liberation Sans", "labelFontSize": 16, "labelColor": "#222222", "labelFlush": false, "labelOverlap": false,
  "titleFont": "Liberation Sans", "titleFontSize": 21, "titleFontWeight": "normal", "titleColor": "#222222"},
 "axisX": {"labelPadding": 11},
 "axisY": {"labelPadding": 8}
}
}
